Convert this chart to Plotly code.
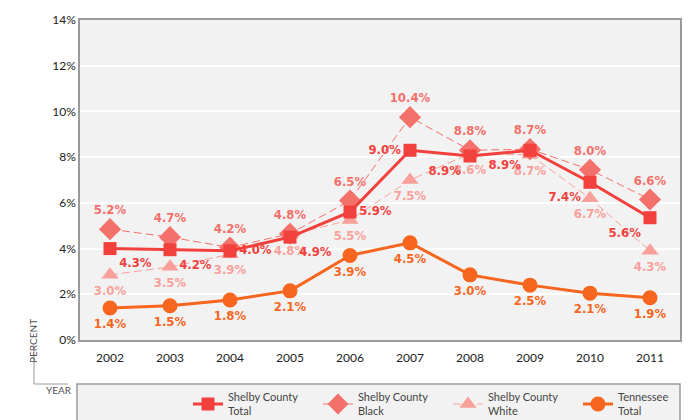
import plotly.graph_objects as go

# years on the x axis
years = ["2002", "2003", "2004", "2005", "2006", "2007", "2008", "2009", "2010", "2011"]

# marker positions as drawn in the source chart (percent)
total_vals = [4.0, 3.95, 3.9, 4.5, 5.6, 8.3, 8.05, 8.3, 6.9, 5.35]
black_vals = [4.85, 4.5, 4.05, 4.65, 6.1, 9.75, 8.3, 8.35, 7.45, 6.15]
white_vals = [2.85, 3.2, 3.75, 4.6, 5.25, 7.0, 8.15, 8.1, 6.2, 3.9]
tn_vals = [1.4, 1.5, 1.75, 2.15, 3.7, 4.25, 2.85, 2.4, 2.05, 1.85]

# printed data labels
total_text = ["4.3%", "4.2%", "4.0%", "4.9%", "5.9%", "9.0%", "8.9%", "8.9%", "7.4%", "5.6%"]
black_text = ["5.2%", "4.7%", "4.2%", "4.8%", "6.5%", "10.4%", "8.8%", "8.7%", "8.0%", "6.6%"]
white_text = ["3.0%", "3.5%", "3.9%", "4.8%", "5.5%", "7.5%", "8.6%", "8.7%", "6.7%", "4.3%"]
tn_text = ["1.4%", "1.5%", "1.8%", "2.1%", "3.9%", "4.5%", "3.0%", "2.5%", "2.1%", "1.9%"]

RED = "#F2413D"
SALMON = "#F4706A"
PINK = "#F9A09A"
ORANGE = "#F7661E"
LABEL_FONT = "Liberation Sans Narrow, DejaVu Sans Condensed, Arial Narrow, sans-serif"
LABEL_SIZE = 13

total_pos = ["bottom right", "bottom right", "middle right", "bottom right", "middle right",
             "middle left", "bottom left", "bottom left", "bottom left", "bottom left"]

fig = go.Figure()

fig.add_trace(go.Scatter(
    x=years, y=white_vals, name="Shelby County<br>White", legendrank=3,
    mode="lines+markers+text", text=white_text, textposition="bottom center",
    textfont=dict(family=LABEL_FONT, size=LABEL_SIZE, color=PINK, weight="bold"),
    line=dict(color=PINK, width=1, dash="8px,4px"),
    marker=dict(symbol="triangle-up", size=15, color=PINK),
))
fig.add_trace(go.Scatter(
    x=years, y=black_vals, name="Shelby County<br>Black", legendrank=2,
    mode="lines+markers+text", text=black_text, textposition="top center",
    textfont=dict(family=LABEL_FONT, size=LABEL_SIZE, color=SALMON, weight="bold"),
    line=dict(color=SALMON, width=1, dash="8px,4px"),
    marker=dict(symbol="diamond", size=17, color=SALMON),
))
fig.add_trace(go.Scatter(
    x=years, y=total_vals, name="Shelby County<br>Total", legendrank=1,
    mode="lines+markers+text", text=total_text, textposition=total_pos,
    textfont=dict(family=LABEL_FONT, size=LABEL_SIZE, color=RED, weight="bold"),
    line=dict(color=RED, width=3),
    marker=dict(symbol="square", size=13, color=RED),
))
fig.add_trace(go.Scatter(
    x=years, y=tn_vals, name="Tennessee<br>Total", legendrank=4,
    mode="lines+markers+text", text=tn_text, textposition="bottom center",
    textfont=dict(family=LABEL_FONT, size=LABEL_SIZE, color=ORANGE, weight="bold"),
    line=dict(color=ORANGE, width=3),
    marker=dict(symbol="circle", size=15, color=ORANGE),
))

# legend box and the corner axis key
fig.add_shape(type="rect", xref="paper", yref="paper", x0=-0.005, x1=1.0, y0=-0.4, y1=-0.1375,
              fillcolor="#F2F2F2", line=dict(color="#9A9A9A", width=1.5), layer="below")
fig.add_shape(type="line", xref="paper", yref="paper", x0=-0.0767, x1=-0.0767, y0=-0.016, y1=-0.1375,
              line=dict(color="#9A9A9A", width=1))
fig.add_shape(type="line", xref="paper", yref="paper", x0=-0.0767, x1=-0.02, y0=-0.1375, y1=-0.1375,
              line=dict(color="#9A9A9A", width=1))
fig.add_annotation(text="PERCENT", xref="paper", yref="paper", x=-0.0917, y=-0.078,
                   textangle=-90, showarrow=False, font=dict(family="Lato", size=10, color="#555555"))
fig.add_annotation(text="YEAR", xref="paper", yref="paper", x=-0.06, y=-0.18,
                   showarrow=False, font=dict(family="Lato", size=10, color="#555555"))

# page body has an 8px margin, so the figure is trimmed by that much
fig.update_layout(
    width=692, height=412,
    margin=dict(l=72, r=20, t=12, b=80, autoexpand=False),
    paper_bgcolor="white",
    plot_bgcolor="#F2F2F2",
    hovermode=False,
    legend=dict(orientation="h", x=0.18, xanchor="left", y=-0.135, yanchor="top",
                bgcolor="rgba(0,0,0,0)", entrywidth=85, entrywidthmode="pixels",
                font=dict(family="Lato", size=11, color="#444444")),
    xaxis=dict(showgrid=False, showline=True, mirror=True, linecolor="#9A9A9A", linewidth=1.5,
               tickfont=dict(family="Lato", size=12, color="#222222"), ticks="",
               ticklabelstandoff=6, range=[-0.5, 9.5]),
    yaxis=dict(range=[0, 14], dtick=2, ticksuffix="%", showgrid=True, gridcolor="white", gridwidth=1.5,
               zeroline=False, showline=True, mirror=True, linecolor="#9A9A9A", linewidth=1.5,
               tickfont=dict(family="Lato", size=12, color="#222222")),
)

fig.write_html("out.html")
